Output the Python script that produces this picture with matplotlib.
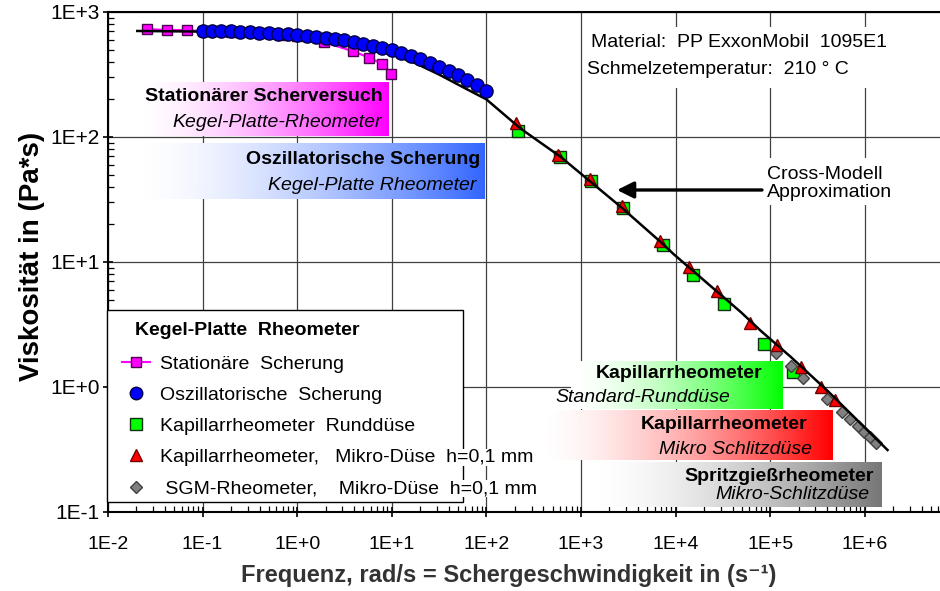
#!/usr/bin/env python3
"""Viskositaetskurve PP ExxonMobil 1095E1 bei 210 C, verschiedene Rheometer."""

import matplotlib.pyplot as plt
import numpy as np
from matplotlib.colors import LinearSegmentedColormap
from matplotlib.lines import Line2D
from matplotlib.patches import Rectangle
from matplotlib.ticker import FuncFormatter, LogLocator, NullFormatter

plt.rcParams["font.family"] = ["Liberation Sans", "DejaVu Sans"]

# Kegel-Platte, stationaere Scherung
STAT_X = [0.0259, 0.042, 0.0686, 0.1, 0.2, 0.4, 0.7, 1.0, 1.93, 3.89, 5.78, 7.80, 9.89]
STAT_Y = [731, 718, 718, 700, 690, 675, 655, 640, 572, 485, 431, 386, 318]

# Kegel-Platte, oszillatorische Scherung
OSZ_X = [0.1, 0.126, 0.158, 0.2, 0.251, 0.316, 0.398, 0.501, 0.631, 0.794,
         1.0, 1.26, 1.58, 2.0, 2.51, 3.16, 3.98, 5.01, 6.31, 7.94,
         10, 12.6, 15.8, 20, 25.1, 31.6, 39.8, 50.1, 63.1, 79.4, 100]
OSZ_Y = [708, 705, 702, 699, 695, 690, 684, 677, 669, 661,
         653, 644, 635, 624, 612, 597, 578, 558, 537, 516,
         495, 472, 447, 420, 393, 366, 339, 312, 285, 259, 233]

# Kapillarrheometer Runddüse
RUND_X = [218, 607, 1290, 2750, 7280, 15100, 32200, 85300, 173000]
RUND_Y = [112, 69.2, 44.5, 27.0, 13.7, 7.87, 4.61, 2.21, 1.32]

# Kapillarrheometer Mikro-Düse
MIKRO_X = [207, 578, 1230, 2690, 6780, 13700, 27200, 60700, 117000, 210000, 342000, 482000]
MIKRO_Y = [129, 71.8, 46.1, 28.1, 14.7, 9.12, 5.86, 3.25, 2.17, 1.45, 1.0, 0.787]

# SGM-Rheometer Mikro-Düse
SGM_X = [114000, 165000, 221000, 396000, 571000, 694000, 843000, 976000, 1130000, 1310000]
SGM_Y = [1.87, 1.47, 1.18, 0.80, 0.63, 0.555, 0.488, 0.437, 0.398, 0.356]

# Cross-Modell
CROSS_X = [0.0204, 0.1, 0.316, 1, 3.16, 10, 17.8, 31.6, 56.2, 100, 229, 607, 1260,
           2620, 6920, 9600, 48800, 79300, 165000, 403000, 1740000]
CROSS_Y = [705, 697, 679, 640, 569, 457, 389, 316, 251, 200, 117, 69.5, 43.9,
           27.7, 14.5, 11.5, 3.98, 2.82, 1.74, 0.933, 0.313]

LEGEND_LABELS = [
    "Stationäre  Scherung",
    "Oszillatorische  Scherung",
    "Kapillarrheometer  Runddüse",
    "Kapillarrheometer,   Mikro-Düse  h=0,1 mm",
    " SGM-Rheometer,    Mikro-Düse  h=0,1 mm",
]


def gradient_box(ax, x0, x1, y0, y1, color):
    cmap = LinearSegmentedColormap.from_list("g", ["white", color])
    grad = (np.linspace(0, 1, 256) ** 1.6).reshape(1, -1)
    ax.imshow(grad, cmap=cmap, aspect="auto", extent=(x0, x1, y0, y1),
              transform=ax.transAxes, zorder=1.5, interpolation="bilinear",
              vmin=0, vmax=1)


def main() -> None:
    fig = plt.figure(figsize=(9.4, 5.91), dpi=100)
    ax = fig.add_axes([0.1149, 0.1337, 0.8851, 0.846])
    ax.set_xscale("log")
    ax.set_yscale("log")

    ax.plot(STAT_X, STAT_Y, color="#ff00ff", lw=1.5, marker="s", ms=7.5,
            mfc="#ff00ff", mec="#500050", mew=1, zorder=3)
    ax.plot(RUND_X, RUND_Y, ls="none", marker="s", ms=8.5, mfc="#00ff00",
            mec="#103010", mew=1, zorder=3)
    ax.plot(SGM_X, SGM_Y, ls="none", marker="D", ms=6.5, mfc="#808080",
            mec="#404040", mew=1, zorder=3.2)
    ax.plot(MIKRO_X, MIKRO_Y, ls="none", marker="^", ms=9, mfc="#ff0000",
            mec="#700000", mew=1, zorder=3.3)
    ax.plot(CROSS_X, CROSS_Y, color="black", lw=1.8, zorder=3.5)
    ax.plot(OSZ_X, OSZ_Y, ls="none", marker="o", ms=9.5, mfc="#0000ff",
            mec="#000040", mew=1, zorder=4)

    # farbige Beschriftungsfelder
    gradient_box(ax, 0.0325, 0.3377, 0.752, 0.860, "#ff00ff")
    gradient_box(ax, 0.0325, 0.452, 0.626, 0.738, "#3366ff")
    gradient_box(ax, 0.5565, 0.811, 0.206, 0.302, "#00ff00")
    gradient_box(ax, 0.517, 0.871, 0.104, 0.204, "#ff0000")
    gradient_box(ax, 0.580, 0.929, 0.010, 0.100, "#777777")

    bold = dict(fontsize=14, fontweight="bold", va="center", ha="right",
                transform=ax.transAxes, zorder=3)
    ital = dict(fontsize=14, style="italic", va="center", ha="right",
                transform=ax.transAxes, zorder=3)
    ax.text(0.3305, 0.830, "Stationärer Scherversuch", **bold)
    ax.text(0.3293, 0.778, "Kegel-Platte-Rheometer", **ital)
    ax.text(0.447, 0.705, "Oszillatorische Scherung", **bold)
    ax.text(0.4423, 0.652, "Kegel-Platte Rheometer", **ital)
    ax.text(0.786, 0.276, "Kapillarrheometer", **bold)
    ax.text(0.7476, 0.228, "Standard-Runddüse", **ital)
    ax.text(0.840, 0.174, "Kapillarrheometer", **bold)
    ax.text(0.846, 0.124, "Mikro Schlitzdüse", **ital)
    ax.text(0.9207, 0.070, "Spritzgießrheometer", **bold)
    ax.text(0.9159, 0.034, "Mikro-Schlitzdüse", **ital)

    # Materialangaben
    ax.add_patch(Rectangle((0.571, 0.848), 0.387, 0.122, transform=ax.transAxes,
                           fc="white", ec="none", zorder=1.5))
    ax.text(0.5805, 0.938, "Material:  PP ExxonMobil  1095E1", fontsize=14,
            va="center", transform=ax.transAxes, zorder=3)
    ax.text(0.5757, 0.884, "Schmelzetemperatur:  210 ° C", fontsize=14,
            va="center", transform=ax.transAxes, zorder=3)

    # Cross-Modell Pfeil
    ax.add_patch(Rectangle((0.786, 0.614), 0.178, 0.094, transform=ax.transAxes,
                           fc="white", ec="none", zorder=1.5))
    ax.text(0.792, 0.674, "Cross-Modell", fontsize=14, va="center",
            transform=ax.transAxes, zorder=3)
    ax.text(0.792, 0.638, "Approximation", fontsize=14, va="center",
            transform=ax.transAxes, zorder=3)
    ax.annotate("", xy=(0.6118, 0.644), xytext=(0.786, 0.644),
                xycoords="axes fraction", textcoords="axes fraction",
                arrowprops=dict(arrowstyle="-|>,head_length=0.4,head_width=0.2",
                                mutation_scale=25, color="black", lw=2.4,
                                shrinkA=0, shrinkB=0), zorder=3)

    # Legende
    ax.add_patch(Rectangle((-0.001, 0.02), 0.428, 0.384, transform=ax.transAxes,
                           fc="white", ec="black", lw=1, zorder=4.8, clip_on=False))
    ax.text(0.0325, 0.362, "Kegel-Platte  Rheometer", fontsize=14,
            fontweight="bold", va="center", transform=ax.transAxes, zorder=6)
    handles = [
        Line2D([], [], color="#ff00ff", lw=1.5, marker="s", ms=7,
               mfc="#ff00ff", mec="#500050"),
        Line2D([], [], ls="none", marker="o", ms=9, mfc="#0000ff", mec="#000040"),
        Line2D([], [], ls="none", marker="s", ms=8, mfc="#00ff00", mec="#103010"),
        Line2D([], [], ls="none", marker="^", ms=8.5, mfc="#ff0000", mec="#700000"),
        Line2D([], [], ls="none", marker="D", ms=6.5, mfc="#808080", mec="#404040"),
    ]
    leg = ax.legend(handles, LEGEND_LABELS, loc="upper left",
                    bbox_to_anchor=(0.0168, 0.314), frameon=False, fontsize=14,
                    handlelength=1.45, handletextpad=0.5, labelspacing=0.70,
                    borderaxespad=0, borderpad=0)
    leg.set_zorder(6)
    for txt in leg.get_texts()[3:]:
        txt.set_bbox(dict(fc="white", ec="none", pad=0))

    # Achsen
    ax.set_xlim(1e-2, 10 ** 6.795)
    ax.set_ylim(1e-1, 1e3)
    fmt = FuncFormatter(lambda v, p: f"1E{int(round(np.log10(v))):+d}")
    for axis in (ax.xaxis, ax.yaxis):
        axis.set_major_locator(LogLocator(base=10, numticks=20))
        axis.set_minor_locator(LogLocator(base=10, subs=np.arange(2, 10), numticks=20))
        axis.set_major_formatter(fmt)
        axis.set_minor_formatter(NullFormatter())

    ax.grid(True, which="major", color="#404040", lw=0.9)
    ax.set_axisbelow(True)
    ax.tick_params(axis="both", which="major", direction="inout", length=7,
                   width=1.2, color="black")
    ax.tick_params(axis="x", which="major", labelsize=14, pad=13.5)
    ax.tick_params(axis="y", which="major", labelsize=15, pad=2.3)
    ax.tick_params(axis="both", which="minor", direction="in", length=4.5, width=0.9)

    for side in ("left", "bottom", "top"):
        ax.spines[side].set_linewidth(1.5)
    ax.spines["right"].set_visible(False)

    ax.set_xlabel("Frequenz, rad/s = Schergeschwindigkeit in (s⁻¹)",
                  fontsize=17, fontweight="bold", color="#333333")
    ax.xaxis.set_label_coords(0.481, -0.105)
    ax.set_ylabel("Viskosität in (Pa*s)", fontsize=20, fontweight="bold")
    ax.yaxis.set_label_coords(-0.0757, 0.512)

    fig.savefig("out.png", dpi=100)


if __name__ == "__main__":
    main()
